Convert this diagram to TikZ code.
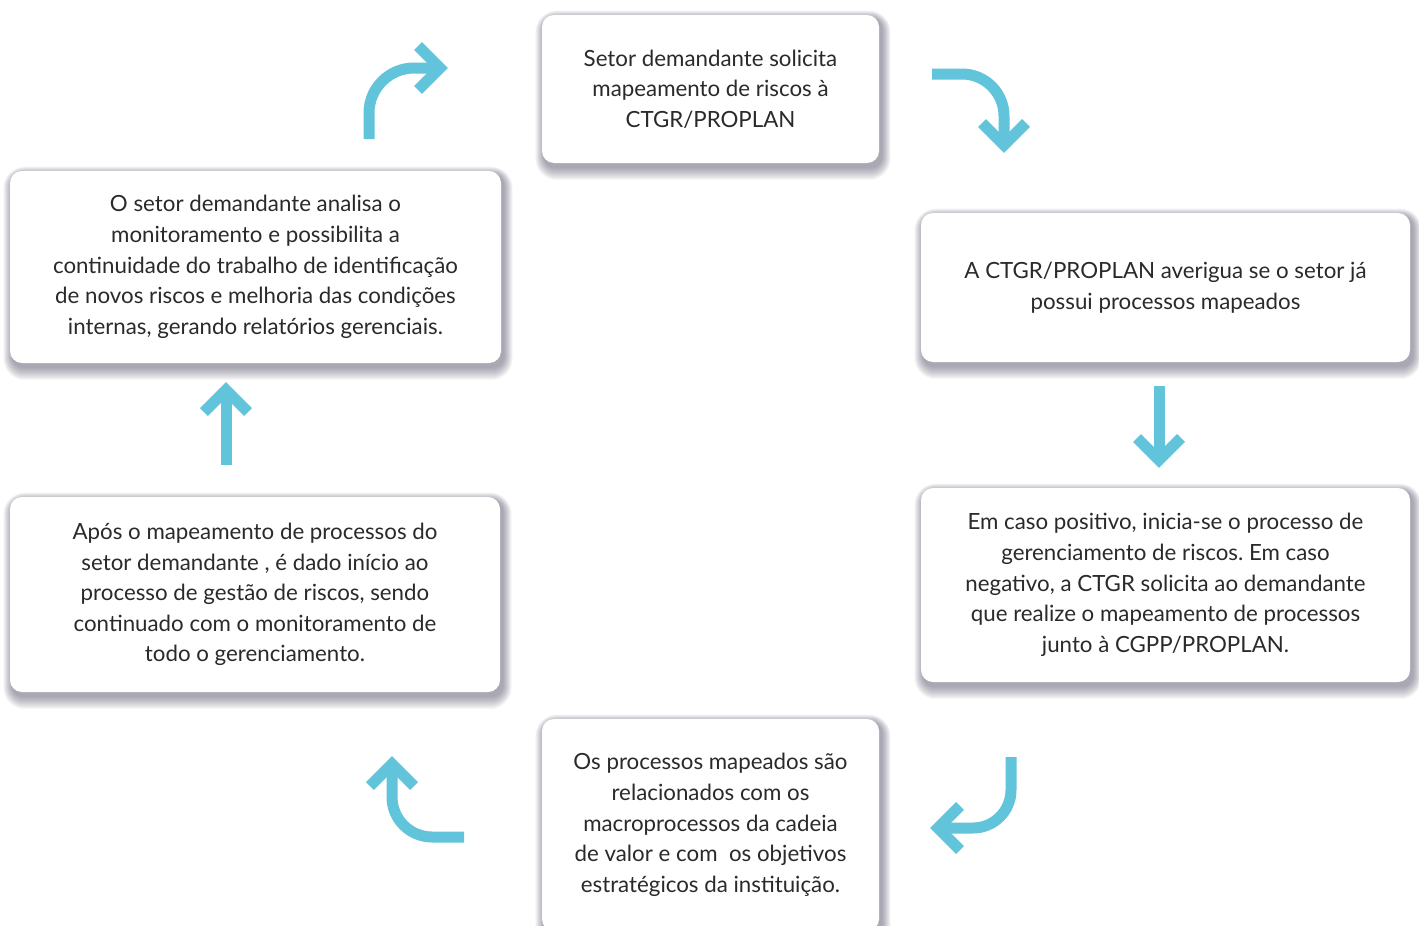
\documentclass[tikz,border=0pt]{standalone}
\usepackage{fontspec}
\setmainfont{Lato}
\usetikzlibrary{backgrounds}
\frenchspacing
\definecolor{arr}{HTML}{62C4DA}
\definecolor{txt}{HTML}{2A2A2A}
\definecolor{shc}{HTML}{3A3450}
\tikzset{
  box/.style={draw=none, fill=white, rounded corners=12pt, align=center, text=txt,
    font=\fontsize{22.3}{30.6}\selectfont, inner sep=0pt},
  shad/.style={fill=shc, fill opacity=0.04},
  arrline/.style={draw=arr, line width=11pt},
  arrhead/.style={draw=arr, line width=11pt, line join=miter}
}
\newcommand{\boxshadow}[1]{%
  \foreach \e in {0,1,...,12}{%
    \fill[shad, rounded corners=12pt+0.8*\e pt]
      ([xshift=2pt-0.7*\e pt, yshift=-3pt+0.6*\e pt]#1.north west) rectangle
      ([xshift=3pt+0.7*\e pt, yshift=-5pt-1.0*\e pt]#1.south east);
  }%
}
\begin{document}
\begin{tikzpicture}[x=1pt,y=-1pt]
\useasboundingbox (0,0) rectangle (1419,926);
\node[box, minimum width=337pt, minimum height=148pt] (b1) at (710.5,89) {Setor demandante solicita\\mapeamento de riscos à\\CTGR/PROPLAN};
\node[box, minimum width=489pt, minimum height=149pt] (b2) at (1165.5,287.5) {A CTGR/PROPLAN averigua se o setor já\\possui processos mapeados};
\node[box, minimum width=489pt, minimum height=194pt] (b3) at (1165.5,585) {Em caso positivo, inicia-se o processo de\\gerenciamento de riscos. Em caso\\negativo, a CTGR solicita ao demandante\\que realize o mapeamento de processos\\junto à CGPP/PROPLAN.};
\node[box, minimum width=337pt, minimum height=212pt] (b4) at (710.5,825) {Os processos mapeados são\\relacionados com os\\macroprocessos da cadeia\\de valor e com\ \ os objetivos\\estratégicos da instituição.};
\node[box, minimum width=490pt, minimum height=195pt] (b5) at (255,594.5) {Após o mapeamento de processos do\\setor demandante , é dado início ao\\processo de gestão de riscos, sendo\\continuado com o monitoramento de\\todo o gerenciamento.};
\node[box, minimum width=491pt, minimum height=192pt] (b6) at (255.5,267) {O setor demandante analisa o\\monitoramento e possibilita a\\continuidade do trabalho de identificação\\de novos riscos e melhoria das condições\\internas, gerando relatórios gerenciais.};
\begin{pgfonlayer}{background}
\fill[white] (0,0) rectangle (1419,926);
\boxshadow{b1}\boxshadow{b2}\boxshadow{b3}\boxshadow{b4}\boxshadow{b5}\boxshadow{b6}
\end{pgfonlayer}
% arrow 1
\draw[arrline, rounded corners=45pt] (369,139) -- (369,68) -- (438,68);
\draw[arrhead] (418,46) -- (440,68) -- (418,90);
% arrow 2
\draw[arrline, rounded corners=42pt] (932,74) -- (1004,74) -- (1004,143);
\draw[arrhead] (982,123) -- (1004,145) -- (1026,123);
% arrow 3
\draw[arrline] (1159,386) -- (1159,458);
\draw[arrhead] (1137,438) -- (1159,460) -- (1181,438);
% arrow 4
\draw[arrline, rounded corners=38pt] (1011,757) -- (1011,828) -- (940,828);
\draw[arrhead] (960,806) -- (938,828) -- (960,850);
% arrow 5
\draw[arrline, rounded corners=40pt] (464,837) -- (392,837) -- (392,766);
\draw[arrhead] (370,786) -- (392,764) -- (414,786);
% arrow 6
\draw[arrline] (226,465) -- (226,392);
\draw[arrhead] (204,412) -- (226,390) -- (248,412);
\end{tikzpicture}
\end{document}
